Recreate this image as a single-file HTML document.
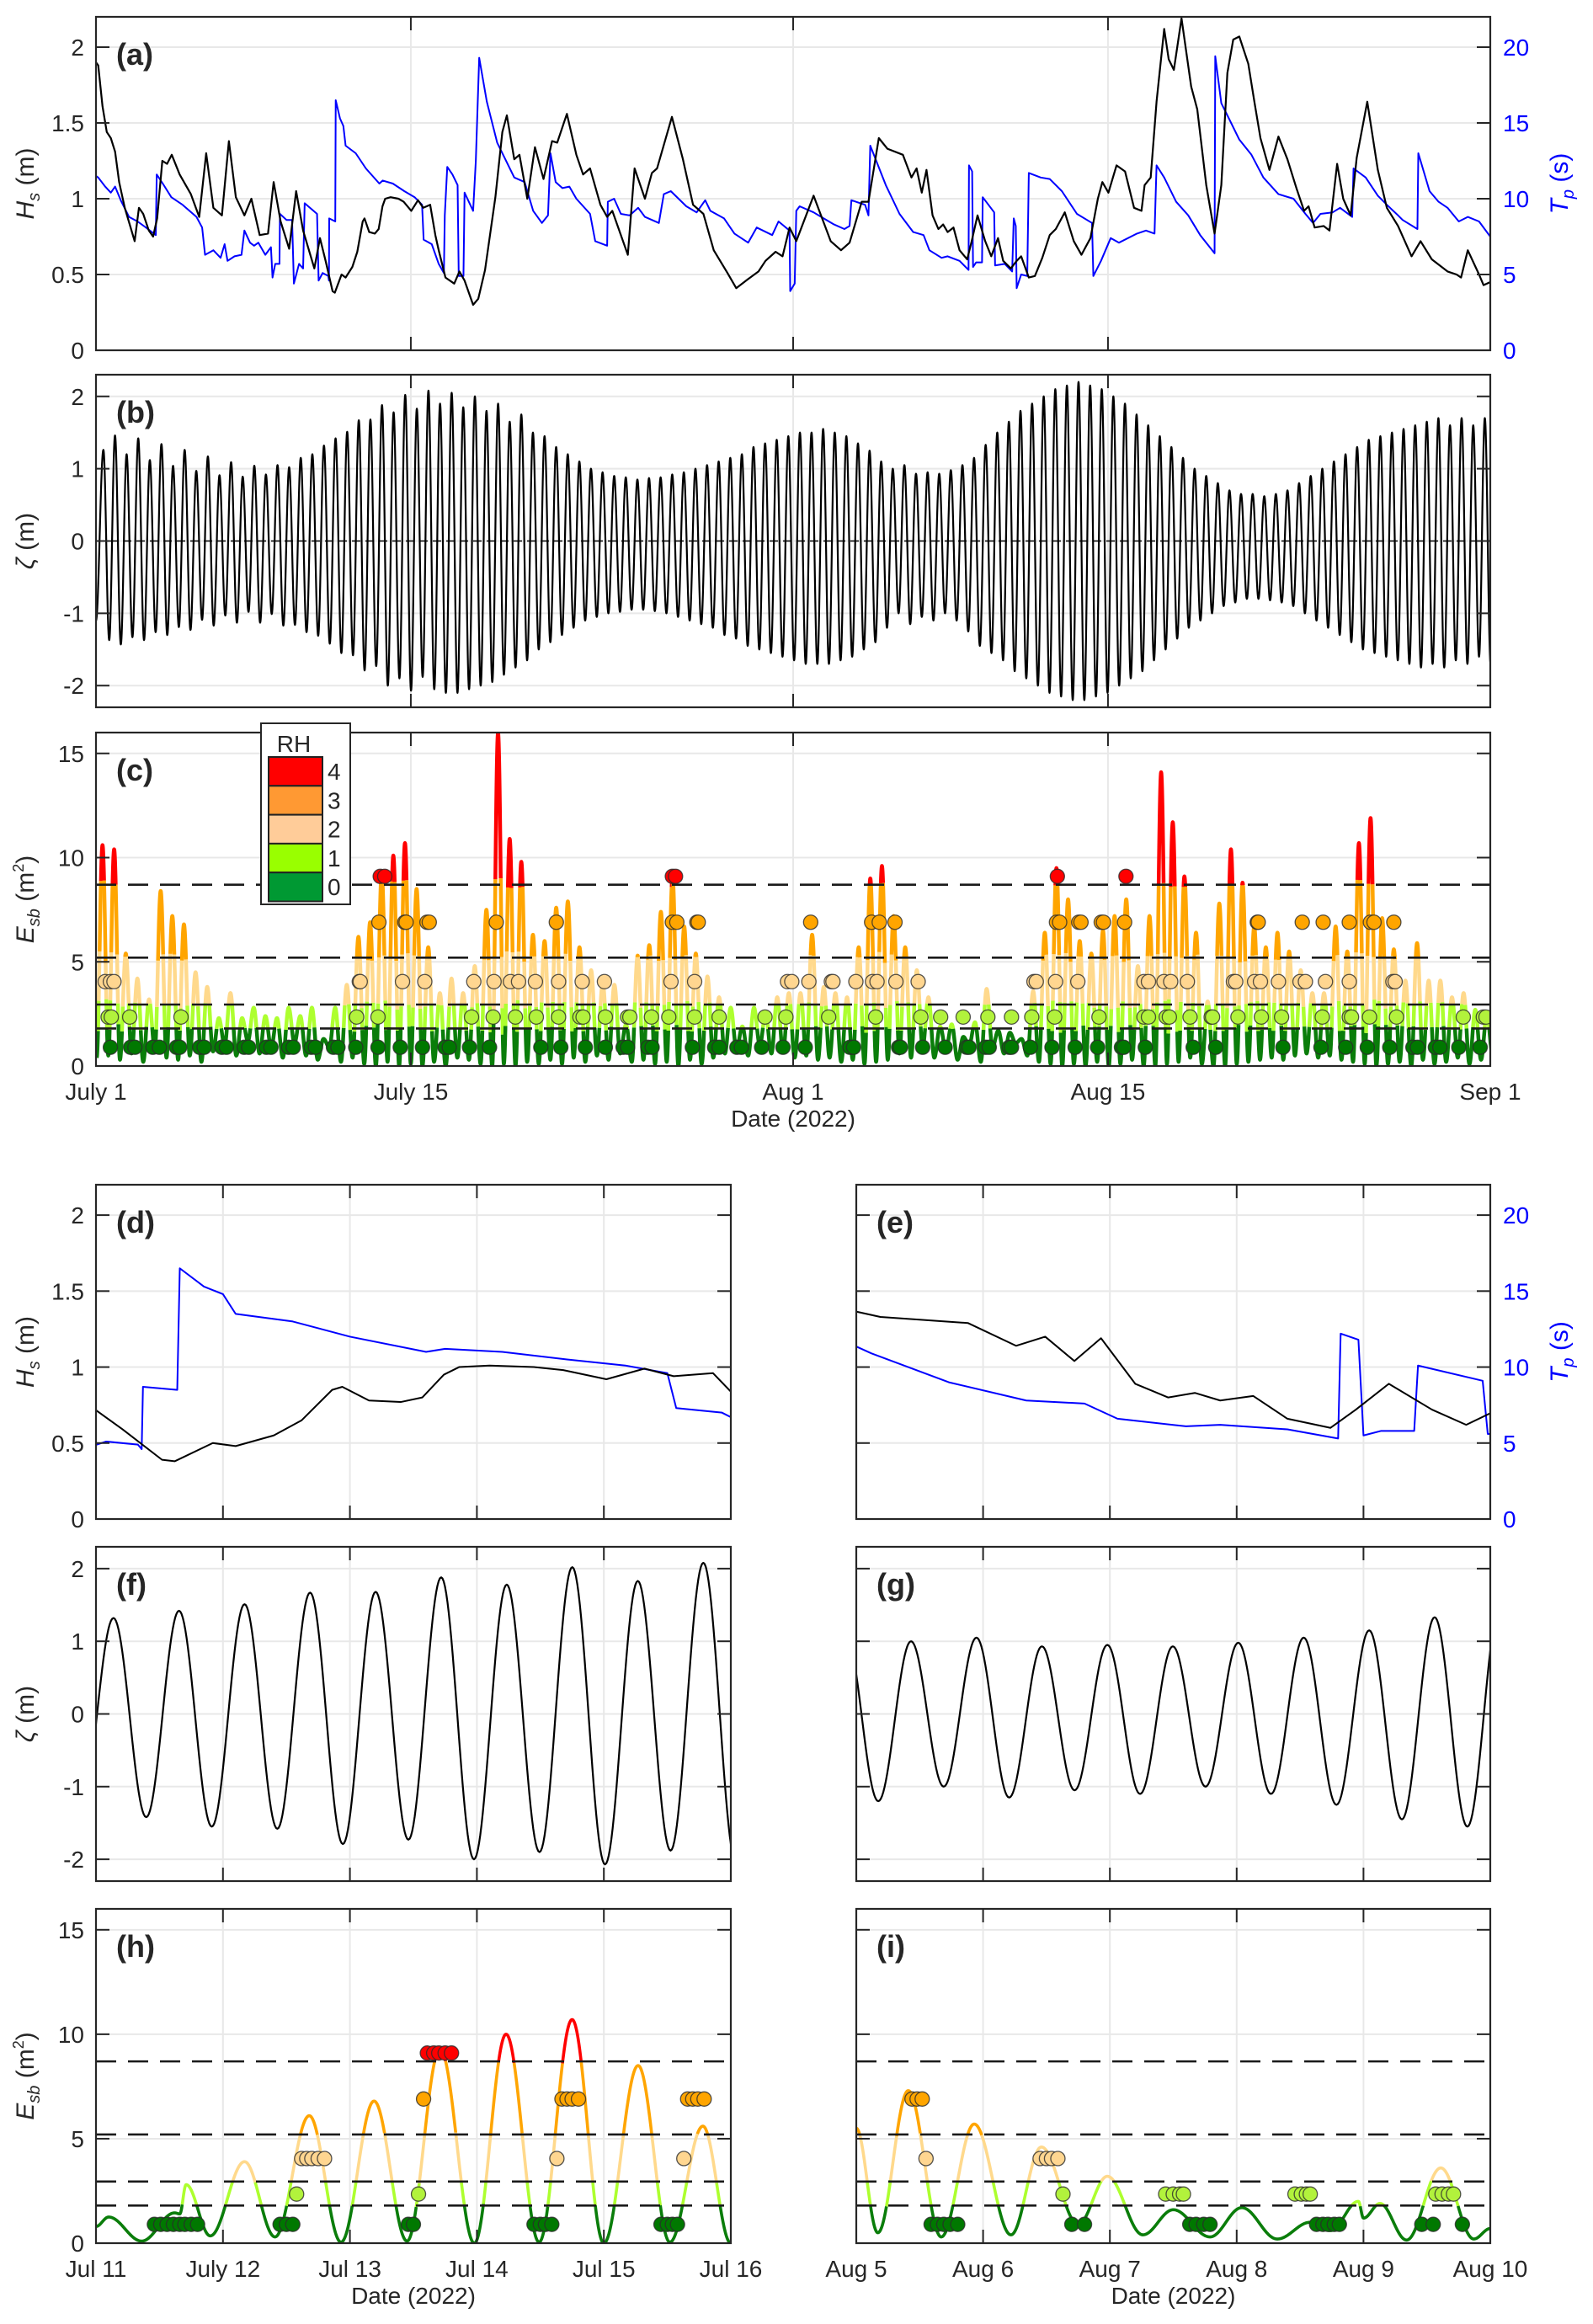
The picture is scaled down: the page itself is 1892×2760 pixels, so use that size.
<!DOCTYPE html>
<html><head><meta charset="utf-8"><title>Hs, Tp, tide and Esb time series</title>
<style>html,body{margin:0;padding:0;background:#fff}svg{display:block}text{font-family:"Liberation Sans",sans-serif;fill:#262626}</style>
</head><body>
<svg id="fig" width="1892" height="2760" viewBox="0 0 1892 2760" xmlns="http://www.w3.org/2000/svg">
<rect width="1892" height="2760" fill="#fff"/>
<defs id="defs"></defs>
</svg>
<script>
// ---------- DATA ----------
// Panel (a)/(d)/(e): significant wave height [day since Jul 1, Hs m]
const hsPoints=[[0,1.9],[0.1,1.88],[0.29,1.61],[0.48,1.44],[0.66,1.40],[0.85,1.31],[1.03,1.11],[1.28,0.94],[1.72,0.72],[1.91,0.94],[2.1,0.9],[2.35,0.79],[2.54,0.75],[2.72,0.87],[2.95,1.25],[3.16,1.23],[3.37,1.29],[3.72,1.16],[4.22,1.03],[4.59,0.88],[4.9,1.30],[5.22,0.94],[5.6,0.89],[5.91,1.38],[6.22,1.01],[6.6,0.89],[6.91,1.0],[7.28,0.76],[7.65,0.77],[7.9,1.11],[8.21,0.85],[8.59,0.67],[8.9,1.05],[9.21,0.79],[9.71,0.54],[9.96,0.74],[10.21,0.59],[10.52,0.39],
[10.62,0.38],[10.92,0.5],[11.1,0.48],[11.4,0.55],[11.62,0.65],[11.86,0.85],[11.94,0.87],[12.15,0.78],[12.4,0.77],[12.57,0.8],[12.74,0.95],[12.86,1.0],[13.1,1.01],[13.45,1.0],[13.68,0.98],
[14.02,0.92],[14.32,0.99],[14.55,0.94],[14.86,0.96],[15.09,0.76],[15.24,0.66],[15.54,0.48],[15.93,0.44],[16.16,0.52],[16.39,0.46],[16.77,0.30],[17.0,0.34],[17.3,0.53],[17.76,1.01],[18.07,1.44],[18.27,1.55],[18.6,1.26],[18.83,1.29],[19.18,1.0],[19.52,1.34],[19.9,1.13],[20.28,1.38],[20.51,1.37],[20.94,1.56],[21.36,1.29],[21.66,1.16],[21.97,1.2],[22.43,0.96],[22.73,0.88],[22.96,0.92],[23.65,0.63],[23.95,1.2],[24.41,1.0],[24.72,1.17],[24.95,1.2],[25.61,1.54],[26.1,1.26],[26.55,0.96],[27.01,0.9],[27.47,0.66],[28.08,0.51],[28.47,0.41],[29.0,0.47],[29.46,0.52],[29.77,0.59],[30.22,0.65],[30.53,0.62],[30.84,0.81],[31.14,0.72],[31.91,1.02],[32.29,0.87],[32.67,0.72],[33.13,0.66],[33.51,0.71],[34.05,0.98],[34.35,0.98],[34.81,1.40],[35.19,1.33],[35.88,1.29],[36.26,1.14],[36.49,1.2],[36.72,1.04],
[36.93,1.19],[37.2,0.89],[37.46,0.80],[37.67,0.83],[37.87,0.78],[38.13,0.81],[38.4,0.66],[38.74,0.60],[38.94,0.72],[39.2,0.89],[39.54,0.72],[39.81,0.62],[40.11,0.74],[40.34,0.59],[40.68,0.54],[40.94,0.59],[41.14,0.62],[41.48,0.48],[41.75,0.49],[42.08,0.61],[42.41,0.76],[42.68,0.80],[43.08,0.91],[43.48,0.72],[43.82,0.63],[44.22,0.74],[44.55,1.0],[44.75,1.11],[45.02,1.04],[45.38,1.22],[45.76,1.18],[46.16,0.94],[46.49,0.92],[46.63,1.09],[46.9,1.14],[47.16,1.64],[47.5,2.12],[47.7,1.92],[47.93,1.85],[48.27,2.19],[48.7,1.74],[48.97,1.59],[49.37,1.09],[49.74,0.77],[50.04,1.09],[50.31,1.83],[50.57,2.05],[50.84,2.07],[51.24,1.89],[51.51,1.64],[51.78,1.40],[52.18,1.19],[52.58,1.41],[52.98,1.26],[53.38,1.07],[53.72,0.92],[53.92,0.95],[54.19,0.81],[54.59,0.82],[54.85,0.79],[55.19,1.23],[55.46,1.0],[55.79,0.89],[56.06,1.27],[56.53,1.64],[57.0,1.19],[57.4,0.94],[57.9,0.82],
[58.5,0.62],[58.9,0.72],[59.4,0.6],[60.1,0.52],[60.5,0.5],[60.7,0.48],[61.0,0.66],[61.5,0.5],[61.7,0.43],[62,0.45]];
// peak period [day, Tp s]
const tpPoints=[[0,11.5],[0.1,11.4],[0.41,10.8],[0.66,10.4],[0.85,10.8],[1.1,9.9],[1.47,8.8],[1.85,8.5],[2.22,8.1],[2.66,7.6],[2.7,11.6],[2.97,11.0],[3.35,10.1],[3.85,9.6],[4.47,8.8],[4.72,8.1],[4.85,6.3],[5.22,6.6],[5.54,6.1],[5.72,7.0],[5.85,5.9],[6.16,6.2],[6.47,6.3],[6.6,7.9],[6.85,7.1],[7.03,6.9],[7.22,7.1],[7.53,6.3],[7.78,6.8],[7.85,4.8],[7.97,5.7],[8.16,5.7],[8.18,9.0],[8.47,8.6],[8.72,8.6],[8.8,4.4],[9.03,5.7],[9.21,5.4],[9.28,9.7],[9.83,9.0],[9.9,4.6],[10.08,5.1],[10.33,4.9],[10.36,4.6],[10.37,8.7],[10.64,8.5],[10.66,16.5],[10.85,15.3],[11.0,14.8],[11.1,13.5],[11.55,13.0],[12.0,12.0],[12.6,11.0],[12.75,11.2],[13.2,11.0],[13.71,10.5],
[14.17,10.1],[14.5,9.6],[14.57,7.3],[14.93,7.0],[15.24,5.7],[15.47,5.1],[15.51,8.9],[15.62,12.1],[15.85,11.6],[16.08,10.9],[16.13,4.9],[16.34,4.9],[16.39,10.4],[16.77,9.2],[16.89,12.5],[17.04,19.3],[17.38,16.4],[17.84,13.7],[18.6,11.4],[19.06,11.1],[19.44,9.2],[19.83,8.4],[20.1,8.9],[20.21,13.0],[20.44,11.1],[20.74,10.7],[21.05,10.8],[21.36,10.0],[21.97,9.0],[22.2,7.2],[22.73,6.9],[22.76,9.8],[23.04,10.0],[23.34,9.0],[23.73,8.9],[24.11,9.4],[24.41,8.8],[25.03,8.4],[25.25,10.3],[25.56,10.5],[26.25,9.5],[26.71,9.1],[27.09,9.9],[27.32,9.2],[27.93,8.7],[28.39,7.7],[29.0,7.1],[29.38,8.1],[30.07,7.6],[30.35,8.5],[30.84,7.9],[30.87,3.9],[31.07,4.4],[31.14,9.2],[31.29,9.5],[31.91,9.1],[32.36,8.7],[32.82,8.3],[33.28,8.0],[33.51,8.2],[33.59,9.9],[34.2,9.6],[34.35,8.9],[34.43,13.5],[35.12,10.9],[35.73,9.0],[36.34,7.8],[36.8,7.6],
[37.06,6.6],[37.6,6.1],[37.87,6.2],[38.4,5.9],[38.8,5.3],[38.82,12.2],[38.96,11.8],[39.0,5.5],[39.14,5.8],[39.4,5.8],[39.43,10.1],[39.94,9.1],[39.98,5.6],[40.41,5.7],[40.74,5.2],[40.81,8.7],[40.9,8.2],[40.94,4.1],[41.14,5.0],[41.41,4.9],[41.48,11.7],[42.01,11.4],[42.41,11.3],[42.95,10.5],[43.62,9.0],[44.29,8.4],[44.35,4.9],[44.69,5.9],[45.12,7.4],[45.49,7.1],[46.29,7.7],[46.69,7.9],[47.07,7.7],[47.16,12.2],[47.5,11.4],[48.03,9.8],[48.57,8.9],[49.1,7.6],[49.74,6.4],[49.77,19.4],[50.04,16.3],[50.31,15.5],[50.84,13.9],[51.38,12.9],[51.91,11.4],[52.58,10.3],[53.25,10.0],[53.78,9.0],[54.12,8.4],[54.45,9.0],[54.99,9.1],[55.32,9.4],[55.86,8.8],[55.92,12.0],[56.46,11.4],[57.0,10.2],[57.4,9.6],[57.9,8.9],
[58.1,8.6],[58.76,8.0],[58.8,13.0],[59.3,10.5],[59.7,9.8],[60.1,9.4],[60.6,8.5],[61.0,8.8],[61.5,8.5],[62,7.5]];

// Panel (b)/(f)/(g): tidal elevation extremes, one high and the following low per tidal cycle
const tideStart=-1.1;
const tideHighs=[1.26,1.46,1.2,1.42,1.12,1.34,1.04,1.26,0.97,1.17,0.91,1.09,0.89,1.04,0.92,1.05,1.02,1.15,1.2,1.32,1.42,1.51,1.67,1.68,1.88,
1.78,2.02,1.83,2.08,
1.9,2.05,1.85,2.0,1.8,1.9,1.65,1.75,1.5,1.45,1.3,1.2,1.1,1.0,0.95,0.9,0.88,0.85,0.87,0.88,0.92,0.95,1.0,1.05,1.1,1.15,1.2,1.3,1.35,1.4,1.45,1.5,1.5,1.55,1.5,1.45,1.35,1.25,1.1,
1.0,1.05,0.93,0.95,0.93,0.98,1.05,1.15,1.33,
1.5,1.65,1.8,1.9,2.0,2.1,2.15,2.2,2.15,2.1,2.0,1.9,1.75,1.6,1.45,1.3,1.15,1.0,0.9,0.8,0.7,0.65,0.65,0.62,0.65,0.7,0.8,0.9,1.0,1.1,1.2,1.3,1.4,1.45,1.5,1.55,1.6,1.65,1.7,1.6,1.7,1.6,1.7,1.65];
const tideLows=[-1.37,-1.43,-1.33,-1.37,-1.26,-1.3,-1.19,-1.23,-1.09,-1.17,-1.03,-1.13,-0.98,-1.13,-1.01,-1.17,-1.16,-1.26,-1.31,-1.42,-1.55,-1.58,-1.79,-1.73,-2.0,
-1.9,-2.07,-1.88,-2.05,
-2.1,-2.1,-2.05,-2.0,-1.95,-1.85,-1.75,-1.65,-1.5,-1.4,-1.3,-1.2,-1.1,-1.05,-1.0,-0.98,-0.95,-0.95,-0.97,-1.0,-1.05,-1.1,-1.15,-1.2,-1.3,-1.35,-1.45,-1.5,-1.55,-1.6,-1.65,-1.7,-1.7,-1.7,-1.65,-1.6,-1.5,-1.4,-1.2,
-1.0,-1.15,-1.05,-1.1,-1.0,-1.1,-1.25,-1.45,-1.55,
-1.65,-1.8,-1.9,-2.0,-2.1,-2.15,-2.2,-2.2,-2.15,-2.1,-2.0,-1.9,-1.8,-1.65,-1.5,-1.35,-1.2,-1.1,-1.0,-0.9,-0.85,-0.8,-0.8,-0.82,-0.85,-0.9,-1.0,-1.1,-1.2,-1.3,-1.4,-1.5,-1.55,-1.6,-1.65,-1.7,-1.75,-1.7,-1.75,-1.65,-1.7,-1.6,-1.7,-1.65];

// Panel (c): Esb peak per tidal cycle and troughs between
const esbPeaks=[10.6,10.4,5.4,4.2,3.2,8.4,7.2,6.8,4.5,3.8,2.3,3.5,2.3,2.8,2.4,2.3,2.8,2.4,2.8,1.3,2.8,3.9,6.2,6.9,9.3,10.1,10.7,8.5,5.7,3.5,4.2,3.5,4.8,7.5,16.0,10.9,9.8,6.3,6.0,7.6,7.9,5.7,4.6,4.0,3.9,2.0,5.3,5.8,7.4,9.1,6.7,5.4,4.3,3.3,2.8,1.9,2.8,2.5,3.3,3.5,3.5,6.3,3.8,3.5,3.3,5.7,9.0,9.6,7.2,5.7,4.6,3.3,1.9,2.0,1.4,2.1,3.7,1.7,1.6,1.3,3.6,6.4,9.5,8.0,6.0,5.4,6.5,7.2,8.0,4.8,7.2,14.1,11.7,9.1,6.4,3.1,7.8,10.4,8.8,6.7,5.7,6.4,5.5,4.6,3.5,3.5,6.7,5.5,10.7,11.9,7.1,5.6,4.1,5.9,4.1,4.1,3.3,3.5,2.7,2.5];
const esbTroughs=[0.4,0.5,0.3,0.6,0.2,0.8,0.4,0.3,0.5,0.2,0.7,1.0,0.5,1.2,0.6,0.9,0.4,1.1,0.5,0.3,0.9,0.2,0.4,0.1,0.0,0.2,0.0,0.1,0.0,0.2,0.0,0.4,0.3,0.1,0.0,0.1,0.0,0.2,0.1,0.3,0.1,0.4,0.2,0.5,0.3,0.6,0.2,0.3,0.1,0.2,0.0,0.3,0.1,0.4,0.6,0.8,0.5,1.0,0.6,0.7,0.4,0.5,0.3,0.4,0.2,0.3,0.1,0.2,0.3,0.6,0.4,0.9,0.4,0.8,0.3,1.0,0.2,0.9,0.6,1.1,0.5,0.2,0.1,0.0,0.1,0.0,0.2,0.0,0.1,0.3,0.0,0.0,0.1,0.2,0.4,0.1,0.0,0.0,0.1,0.2,0.3,0.4,0.3,0.5,0.6,0.4,0.5,0.3,0.2,0.1,0.0,0.1,0.2,0.0,0.3,0.1,0.2,0.4,0.1,0.3,0.5];
const rhThresholds=[1.8,2.95,5.2,8.7];
const rhMarkerLevels=[0.9,2.35,4.05,6.9,9.1];
const cMarkRH0=[0.64,1.54,1.73,2.53,2.82,3.58,3.72,4.61,4.81,5.6,5.8,6.59,6.79,7.58,7.78,8.57,8.77,9.57,9.76,10.56,10.76,11.55,12.54,13.53,14.52,15.52,15.71,16.61,17.5,19.78,20.67,21.76,22.65,23.44,23.64,24.54,24.73,26.52,27.51,27.71,28.5,28.7,29.6,30.55,31.54,33.53,33.69,35.69,35.77,36.76,37.76,38.72,38.82,39.56,39.72,40.61,40.71,41.55,42.51,43.54,44.54,45.6,45.7,46.66,48.79,49.79,52.78,54.47,55.57,56.53,57.53,58.56,58.76,59.56,59.76,60.6,61.55];
const cMarkRH1=[0.54,0.68,1.5,3.78,11.59,12.54,16.7,17.66,18.65,19.58,20.57,21.52,21.66,22.65,23.64,23.74,24.7,25.47,26.62,27.71,29.75,30.68,32.58,34.67,36.68,37.56,38.56,39.66,40.71,41.61,42.63,44.6,46.6,46.8,47.59,47.73,48.65,49.59,49.65,50.78,51.82,52.72,54.53,55.73,55.83,56.63,57.83,60.8,61.69,61.81];
const cMarkRH2=[0.41,0.64,0.8,11.71,11.75,13.63,14.62,16.8,17.7,18.43,18.79,19.54,20.57,21.62,22.61,25.57,26.62,30.75,30.94,31.7,32.7,32.77,33.79,34.53,34.73,35.57,36.56,41.71,41.81,42.67,43.66,46.6,46.8,47.49,47.79,48.53,50.58,50.68,51.52,51.78,52.58,53.54,53.78,54.67,55.73,57.67,57.77];
const cMarkRH3=[12.58,13.73,13.79,14.72,14.82,17.8,20.47,25.63,25.83,26.72,26.78,31.78,34.49,34.83,35.53,42.71,42.85,43.7,43.8,44.7,44.8,45.74,51.64,51.68,53.64,54.57,55.73,56.67,56.83,57.71];
const cMarkRH4=[12.64,12.84,25.63,25.77,42.75,45.8];

// Panel (h): Esb extremes, days since Jul 11
const hExtT=[0,0.1,0.36,0.62,0.66,0.71,0.9,1.17,1.41,1.68,1.93,2.19,2.45,2.71,2.98,3.23,3.49,3.75,4.0,4.27,4.52,4.78,5.0];
const hExtV=[0.8,1.25,0.1,1.45,1.4,2.8,0.35,3.9,0.3,6.1,0.05,6.8,0.1,9.3,0.0,10.0,0.05,10.7,0.0,8.5,0.05,5.6,0.0];
const hMarkRH0=[0.46,0.51,0.56,0.61,0.66,0.7,0.75,0.8,1.45,1.5,1.55,2.46,2.5,3.45,3.5,3.54,3.59,4.45,4.5,4.54,4.58];
const hMarkRH1=[1.58,2.54];
const hMarkRH2=[1.62,1.66,1.7,1.75,1.8,3.63,4.63];
const hMarkRH3=[2.58,3.67,3.71,3.75,3.8,4.66,4.7,4.74,4.79];
const hMarkRH4=[2.61,2.66,2.7,2.75,2.8];
// Panel (i): Esb extremes, days since Aug 5
const iExtT=[0,0.17,0.41,0.67,0.93,1.22,1.46,1.75,1.98,2.26,2.5,2.79,3.04,3.32,3.58,3.74,3.96,4.0,4.13,4.34,4.61,4.87,5.0];
const iExtV=[5.5,0.5,7.3,0.3,5.7,0.4,4.6,0.9,3.2,0.4,1.6,0.3,1.7,0.2,1.0,0.6,2.0,1.2,1.9,0.15,3.6,0.2,0.7];
const iMarkRH0=[0.59,0.64,0.69,0.74,0.8,1.7,1.8,2.63,2.68,2.74,2.79,3.63,3.68,3.72,3.77,3.81,4.46,4.55,4.78];
const iMarkRH1=[1.63,2.44,2.5,2.55,2.58,3.46,3.51,3.55,3.58,4.57,4.62,4.67,4.71];
const iMarkRH2=[0.55,1.45,1.5,1.54,1.59];
const iMarkRH3=[0.44,0.48,0.52];
const iMarkRH4=[];

// tick labels
const topDateTicks=[0,14,31,45,62];
const topDateLabels=['July 1','July 15','Aug 1','Aug 15','Sep 1'];
const julLabels=['Jul 11','July 12','Jul 13','Jul 14','Jul 15','Jul 16'];
const augLabels=['Aug 5','Aug 6','Aug 7','Aug 8','Aug 9','Aug 10'];
const hsTicks=[0,0.5,1,1.5,2];
const tpTicks=[0,5,10,15,20];
const zetaTicks=[-2,-1,0,1,2];
const esbTicks=[0,5,10,15];

// ---------- RENDERING ----------
const NS='http://www.w3.org/2000/svg';
const svg=document.getElementById('fig');
const defs=document.getElementById('defs');
function mk(tag,attrs,parent){const e=document.createElementNS(NS,tag);for(const k in attrs)e.setAttribute(k,attrs[k]);(parent||svg).appendChild(e);return e;}
const LINE_COLORS=['#0a7d0a','#adff2f','#ffd98c','#ffa500','#ff0000'];
const MARK_COLORS=['#007800','#b2f23c','#ffd690','#ffa500','#ff0000'];
const TXT='#262626';

function panel(c){
  const g=mk('g',{});
  
  
  const sx=d=>c.x0+(d-c.dmin)/(c.dmax-c.dmin)*(c.x1-c.x0);
  const sy=v=>c.y1-(v-c.ymin)/(c.ymax-c.ymin)*(c.y1-c.y0);
  c.yticks.forEach(v=>{const l=mk('line',{x1:c.x0,x2:c.x1,y1:sy(v),y2:sy(v),stroke:'#e8e8e8','stroke-width':2},g);
    
    });
  c.xticks.forEach(d=>{const l=mk('line',{x1:sx(d),x2:sx(d),y1:c.y0,y2:c.y1,stroke:'#e8e8e8','stroke-width':2},g);
    
    });
  const cp=mk('clipPath',{id:'clip-'+c.id},defs);
  mk('rect',{x:c.x0,y:c.y0,width:c.x1-c.x0,height:c.y1-c.y0},cp);
  const plot=mk('g',{'clip-path':'url(#clip-'+c.id+')'},g);
  
  
  return {g,plot,sx,sy,c};
}
function finish(p){
  const c=p.c,g=p.g,sx=p.sx,sy=p.sy;
  const box=mk('rect',{x:c.x0,y:c.y0,width:c.x1-c.x0,height:c.y1-c.y0,fill:'none',stroke:TXT,'stroke-width':2.2},g);
  
  
  c.yticks.forEach(v=>{
    const t1=mk('line',{x1:c.x0,x2:c.x0+16,y1:sy(v),y2:sy(v),stroke:TXT,'stroke-width':2},g);
    
    
    const t2=mk('line',{x1:c.x1-16,x2:c.x1,y1:sy(v),y2:sy(v),stroke:TXT,'stroke-width':2},g);
    
    
    if(c.ylab){const t=mk('text',{x:c.x0-14,y:sy(v)+10,'text-anchor':'end','font-size':28,fill:TXT},g);t.textContent=String(v);
      
      }
  });
  if(c.rticks){c.rticks.forEach(v=>{const t=mk('text',{x:c.x1+15,y:sy(v/c.rscale)+10,'font-size':28,fill:'#0000ff',style:'fill:#0000ff'},g);t.textContent=String(v);
    
    });
    const rt=mk('text',{transform:`translate(${c.x1+92},${(c.y0+c.y1)/2}) rotate(-90)`,'text-anchor':'middle','font-size':30,style:'fill:#0000ff'},g);
    rt.innerHTML='<tspan font-style="italic">T</tspan><tspan font-style="italic" font-size="20" dy="7">p</tspan><tspan dy="-7"> (s)</tspan>';
    
    }
  c.xticks.forEach((d,k)=>{
    const a=mk('line',{x1:sx(d),x2:sx(d),y1:c.y1-16,y2:c.y1,stroke:TXT,'stroke-width':2},g);
    
    
    const b=mk('line',{x1:sx(d),x2:sx(d),y1:c.y0,y2:c.y0+16,stroke:TXT,'stroke-width':2},g);
    
    
    if(c.xlabels){const t=mk('text',{x:sx(d),y:c.y1+40,'text-anchor':'middle','font-size':28,fill:TXT},g);t.textContent=c.xlabels[k];
      
      }
  });
  if(c.xlabels){const t=mk('text',{x:(c.x0+c.x1)/2,y:c.y1+72,'text-anchor':'middle','font-size':28,fill:TXT},g);t.textContent='Date (2022)';
    
    }
  if(c.ytitle){const t=mk('text',{transform:`translate(40,${(c.y0+c.y1)/2}) rotate(-90)`,'text-anchor':'middle','font-size':30,fill:TXT},g);t.innerHTML=c.ytitle;
    
    }
  const lb=mk('text',{x:c.x0+24,y:c.y0+57,'font-size':36,'font-weight':'bold',fill:TXT},g);lb.textContent='('+c.id+')';
  
  
}
function linePath(p,pts,color,w,name){
  const d=pts.map((q,k)=>(k?'L':'M')+p.sx(q[0]).toFixed(2)+','+p.sy(q[1]).toFixed(2)).join('');
  const e=mk('path',{d,fill:'none',stroke:color,'stroke-width':w,'stroke-linejoin':'round'},p.plot);
  
  
  return e;
}
function extCurve(ts,vs,step){
  const pts=[];
  for(let k=0;k<ts.length-1;k++){const ta=ts[k],tb=ts[k+1];const n=Math.max(2,Math.ceil((tb-ta)/step));
    for(let j=0;j<n;j++){const s=j/n;pts.push([ta+(tb-ta)*s,vs[k]+(vs[k+1]-vs[k])*(1-Math.cos(Math.PI*s))/2]);}}
  pts.push([ts[ts.length-1],vs[vs.length-1]]);return pts;
}
function rhClass(v){let c=0;rhThresholds.forEach(t=>{if(v>=t)c++;});return c;}
function coloredLine(p,pts,w){
  let cur=null,seg=[];
  const flush=()=>{if(seg.length>1){const e=linePath(p,seg,LINE_COLORS[cur],w,'esb-line-rh'+cur);e.setAttribute('stroke-linecap','butt');}};
  for(let k=0;k<pts.length-1;k++){const cl=rhClass((pts[k][1]+pts[k+1][1])/2);
    if(cl!==cur){flush();cur=cl;seg=[pts[k]];}seg.push(pts[k+1]);}
  flush();
}
function thresholdLines(p){
  rhThresholds.forEach(v=>{const l=mk('line',{x1:p.c.x0,x2:p.c.x1,y1:p.sy(v),y2:p.sy(v),stroke:'#1a1a1a','stroke-width':2.6,'stroke-dasharray':'24 14'},p.plot);
    
    });
}
function markers(p,lists,off,r){
  lists.forEach((arr,lv)=>arr.forEach(d=>{
    const m=mk('circle',{cx:p.sx(d+off),cy:p.sy(rhMarkerLevels[lv]),r:r,fill:MARK_COLORS[lv],stroke:'#2a2a2a','stroke-width':1.3,'stroke-opacity':0.8},p.plot);
    
    
  }));
}
const tideP=0.5162,tideT0=0.33,esbP=0.5173,esbT0=0.29;
function tideExt(){const ts=[0],vs=[tideStart];
  tideHighs.forEach((h,i)=>{ts.push(tideT0+i*tideP);vs.push(h);ts.push(tideT0+i*tideP+tideP/2);vs.push(tideLows[i]);});
  return extCurve(ts,vs,0.01);}
function esbExt(){const ts=[],vs=[];
  for(let j=0;j<=esbPeaks.length;j++){ts.push(esbT0-esbP/2+j*esbP);vs.push(esbTroughs[j]);
    if(j<esbPeaks.length){ts.push(esbT0+j*esbP);vs.push(esbPeaks[j]);}}
  return extCurve(ts,vs,0.01);}
const TOP={x0:114,x1:1770,dmin:0,dmax:62,xticks:topDateTicks};
const dayTicks=[0,1,2,3,4,5];
const HS_T='<tspan font-style="italic">H</tspan><tspan font-style="italic" font-size="20" dy="7">s</tspan><tspan dy="-7"> (m)</tspan>';
const ZT='<tspan font-style="italic">ζ</tspan> (m)';
const ET='<tspan font-style="italic">E</tspan><tspan font-style="italic" font-size="20" dy="7">sb</tspan><tspan dy="-7"> (m</tspan><tspan font-size="18" dy="-12">2</tspan><tspan dy="12">)</tspan>';
const tidePts=tideExt(), esbPts=esbExt();

// (a)
let pa=panel(Object.assign({id:'a',name:'panel-a-hs-tp',y0:20,y1:416,ymin:0,ymax:2.2,yticks:hsTicks,ylab:true,rticks:tpTicks,rscale:10,ytitle:HS_T},TOP));
linePath(pa,tpPoints.map(q=>[q[0],q[1]/10]),'#0000ff',2,'tp-line');
linePath(pa,hsPoints,'#000',2.2,'hs-line');
finish(pa);
// (b)
let pb=panel(Object.assign({id:'b',name:'panel-b-tide',y0:445,y1:840,ymin:-2.3,ymax:2.3,yticks:zetaTicks,ylab:true,ytitle:ZT},TOP));
{const z=mk('line',{x1:114,x2:1770,y1:pb.sy(0),y2:pb.sy(0),stroke:'#000','stroke-width':1.6,'stroke-dasharray':'10 6'},pb.plot);

}
linePath(pb,tidePts,'#000',2.2,'tide-line');
finish(pb);
// (c)
let pc=panel(Object.assign({id:'c',name:'panel-c-esb',y0:870,y1:1266,ymin:0,ymax:16,yticks:esbTicks,ylab:true,xlabels:topDateLabels,ytitle:ET},TOP));
coloredLine(pc,esbPts,4.5);
thresholdLines(pc);
markers(pc,[cMarkRH0,cMarkRH1,cMarkRH2,cMarkRH3,cMarkRH4],0,8.5);
finish(pc);
// (d)
const LEFT={x0:114,x1:868}, RIGHT={x0:1017,x1:1770};
let pd=panel(Object.assign({id:'d',name:'panel-d-hs-tp-july',y0:1407,y1:1804,dmin:10,dmax:15,xticks:dayTicks.map(d=>d+10),ymin:0,ymax:2.2,yticks:hsTicks,ylab:true,ytitle:HS_T},LEFT));
linePath(pd,tpPoints.map(q=>[q[0],q[1]/10]),'#0000ff',2,'tp-line');
linePath(pd,hsPoints,'#000',2,'hs-line');
finish(pd);
// (e)
let pe=panel(Object.assign({id:'e',name:'panel-e-hs-tp-august',y0:1407,y1:1804,dmin:35,dmax:40,xticks:dayTicks.map(d=>d+35),ymin:0,ymax:2.2,yticks:hsTicks,ylab:false,rticks:tpTicks,rscale:10},RIGHT));
linePath(pe,tpPoints.map(q=>[q[0],q[1]/10]),'#0000ff',2,'tp-line');
linePath(pe,hsPoints,'#000',2,'hs-line');
finish(pe);
// (f)
let pf=panel(Object.assign({id:'f',name:'panel-f-tide-july',y0:1837,y1:2234,dmin:10,dmax:15,xticks:dayTicks.map(d=>d+10),ymin:-2.3,ymax:2.3,yticks:zetaTicks,ylab:true,ytitle:ZT},LEFT));
linePath(pf,tidePts,'#000',2.2,'tide-line');
finish(pf);
// (g)
let pg=panel(Object.assign({id:'g',name:'panel-g-tide-august',y0:1837,y1:2234,dmin:35,dmax:40,xticks:dayTicks.map(d=>d+35),ymin:-2.3,ymax:2.3,yticks:zetaTicks,ylab:false},RIGHT));
linePath(pg,tidePts,'#000',2.2,'tide-line');
finish(pg);
// (h)
let ph=panel(Object.assign({id:'h',name:'panel-h-esb-july',y0:2267,y1:2664,dmin:0,dmax:5,xticks:dayTicks,ymin:0,ymax:16,yticks:esbTicks,ylab:true,xlabels:julLabels,ytitle:ET},LEFT));
coloredLine(ph,extCurve(hExtT,hExtV,0.004),3.6);
thresholdLines(ph);
markers(ph,[hMarkRH0,hMarkRH1,hMarkRH2,hMarkRH3,hMarkRH4],0,8.5);
finish(ph);
// (i)
let pi=panel(Object.assign({id:'i',name:'panel-i-esb-august',y0:2267,y1:2664,dmin:0,dmax:5,xticks:dayTicks,ymin:0,ymax:16,yticks:esbTicks,ylab:false,xlabels:augLabels},RIGHT));
coloredLine(pi,extCurve(iExtT,iExtV,0.004),3.6);
thresholdLines(pi);
markers(pi,[iMarkRH0,iMarkRH1,iMarkRH2,iMarkRH3,iMarkRH4],0,8.5);
finish(pi);

// legend (RH colour key) in panel c
const lg=mk('g',{});


const lbox=mk('rect',{x:310,y:859,width:106,height:215,fill:'#fff',stroke:TXT,'stroke-width':2},lg);


const lt=mk('text',{x:349,y:893,'text-anchor':'middle','font-size':28,fill:TXT},lg);lt.textContent='RH';


const legendColors=['#ff0000','#ff9933','#ffcc99','#99ff00','#009933'];
const legendLabels=['4','3','2','1','0'];
legendColors.forEach((col,k)=>{
  const r=mk('rect',{x:319,y:899+k*34.3,width:64,height:34.3,fill:col,stroke:'#222','stroke-width':2},lg);
  
  
  const t=mk('text',{x:389,y:926+k*34.3,'font-size':28,fill:TXT},lg);t.textContent=legendLabels[k];
  
  
});
</script>
</body></html>
